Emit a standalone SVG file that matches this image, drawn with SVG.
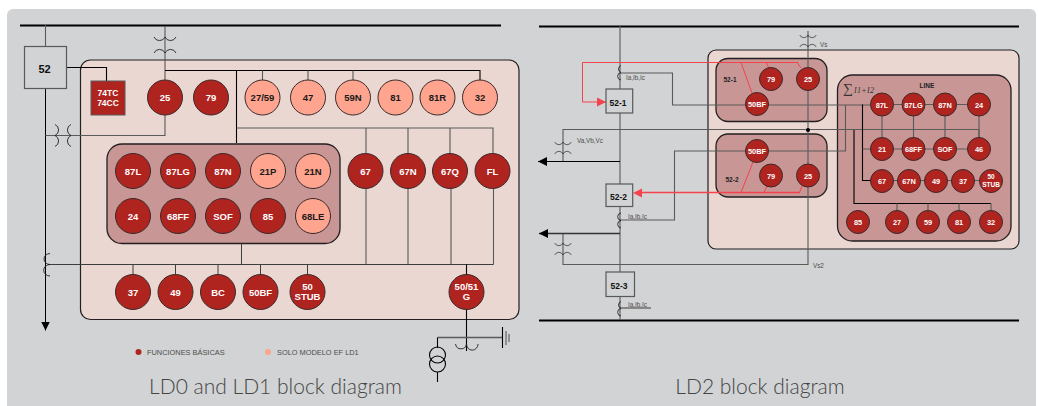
<svg xmlns="http://www.w3.org/2000/svg" width="1038" height="406" viewBox="0 0 1038 406">
<style>
text{font-family:"Liberation Sans",Arial,sans-serif}
.bg{fill:#d1d3d4}
.p1{fill:#ebd7d2;stroke:#231f20;stroke-width:1.2}
.p2{fill:#c89695;stroke:#231f20;stroke-width:1.3}
.n circle{stroke:#3a2a2a;stroke-width:1}
.d circle{fill:#b0241f}
.l circle{fill:#ffa58f}
.n text{font-weight:700;text-anchor:middle}
.d text{fill:#fff}
.l text{fill:#1a1a1a}
.b text{font-size:9.5px}
.s text{font-size:7.4px}
.box{fill:#d1d3d4;stroke:#58595b;stroke-width:1.2}
.bt{font-weight:700;font-size:10.5px;fill:#111;text-anchor:middle}
.w{fill:none;stroke:#3d3d3d;stroke-width:1}
.g{fill:none;stroke:#5a5a5a;stroke-width:1.1}
.k{fill:none;stroke:#000;stroke-width:1.1}
.bus{fill:none;stroke:#000;stroke-width:2}
.r{fill:none;stroke:#f4434c;stroke-width:1}
.c{fill:none;stroke:#222;stroke-width:.9}
.t6{font-size:6.3px;fill:#4d4d4d}
.leg{font-size:7.4px;fill:#4d4d4d}
.cap{font-family:Lato,"Liberation Sans",sans-serif;font-weight:300;font-size:21px;fill:#454545;text-anchor:middle}
</style>
<defs>
<g id="ct"><path class="c" d="M-11-8A6 6 0 0 0 0-8A6 6 0 0 0 11-8M-11 8A6 6 0 0 1 0 8A6 6 0 0 1 11 8"/></g>
<marker id="ah" markerUnits="userSpaceOnUse" markerWidth="10" markerHeight="9" refX="9" refY="4.5" orient="auto"><path d="M0 0L9 4.5L0 9Z" fill="#000"/></marker>
<marker id="ar" markerUnits="userSpaceOnUse" markerWidth="10" markerHeight="9" refX="9" refY="4.5" orient="auto"><path d="M0 0L9 4.5L0 9Z" fill="#f4434c"/></marker>
</defs>
<rect class="bg" x="7" y="9" width="1029" height="410" rx="6"/>

<g id="panels">
<rect id="panel-ld0" class="p1" x="80.5" y="60" width="438.5" height="259.5" rx="10"/>
<rect id="panel-ld0-inner" class="p2" x="107" y="144" width="233" height="99.5" rx="15"/>
<rect id="panel-ld2" class="p1" x="708" y="50" width="311" height="199" rx="8"/>
<rect id="panel-52-1" class="p2" x="716" y="58.5" width="111" height="63" rx="12"/>
<rect id="panel-52-2" class="p2" x="716" y="134" width="111" height="63" rx="12"/>
<rect id="panel-line" class="p2" x="837.5" y="75" width="173.5" height="166" rx="15"/>
</g>

<g id="connectors">
<path class="bus" d="M20 25.5H501M539 26.5H1019M539 320.5H1019"/>
<path class="g" d="M45.5 25V47"/>
<path class="k" d="M45.5 88V330.5" marker-end="url(#ah)" style="stroke-width:1"/>
<path class="k" d="M66 67.5H106.5V81"/>
<path class="g" d="M165 26V81M45.5 135.5H165V115"/>
<path class="k" d="M165 70.5H480V81M236.5 70.5V143"/>
<path class="g" d="M262.5 70.5V81M308 70.5V81M353 70.5V81"/>
<path class="g" d="M236.5 128H493V154M366 128V154M408 128V154M450 128V154"/>
<path class="g" d="M366 188V264M408 188V264M451 188V264M493.5 188V264.5"/>
<path class="w" d="M48 264.5H493.5M241.5 243.5V264.5M133 264.5V275M175.5 264.5V275M218 264.5V275M260.5 264.5V275M307.5 264.5V275"/>
<path class="k" d="M466.5 264.5V275M466.5 309V351"/>
<path class="g" d="M437.5 337.5H503" style="stroke-width:1.4"/>
<path class="k" d="M437.5 337.5V348M437.5 372V382M502.5 327V348"/>
<path class="g" d="M506 331V345M509 334V342"/>
<circle class="k" cx="437.5" cy="355" r="8"/><circle class="k" cx="437.5" cy="364" r="8"/>
<use href="#ct" transform="translate(165 45)"/>
<use href="#ct" transform="translate(63 135.5) rotate(90)"/>
<path class="c" d="M50 253.5A6 5.5 0 0 0 50 264.5A6 5.5 0 0 0 50 276"/>
<path class="c" d="M455.5 344A5.6 6 0 0 0 466.5 344A5.6 6 0 0 0 478 344"/>

<path class="g" d="M620 26V320M620 73H672.5V105H882"/>
<path class="g" d="M563 161V129.5H979V138M808 31V264.5H563V233.5"/>
<path class="g" d="M620 220H674.5V151H845.5V105"/>
<path class="w" d="M620 308H651"/>
<path class="k" d="M620 161.5H538" marker-end="url(#ah)"/>
<path class="k" d="M620 233.5H539" marker-end="url(#ah)" style="stroke:#333;stroke-width:1.4"/>
<circle cx="808" cy="130" r="2" fill="#000"/>
<use href="#ct" transform="translate(563 148) scale(.75)"/>
<use href="#ct" transform="translate(563 249) scale(.75)"/>
<use href="#ct" transform="translate(808 41) scale(.75)"/>
<path class="c" d="M621 65.5A4 3.8 0 0 0 621 72.5A4 3.8 0 0 0 621 80M621 213A4 3.8 0 0 0 621 220.5A4 3.8 0 0 0 621 228M621 301.5A4 3.8 0 0 0 621 308.5A4 3.8 0 0 0 621 316"/>
<path class="r" d="M798 62.5H582.5V102H606" marker-end="url(#ar)"/>
<path class="r" d="M741 62.5L752 93M766 62.5L769 68M797 62.5L801 68"/>
<path class="r" d="M800 192.500H642" style="stroke-width:1.3"/>
<path class="r" d="M741 192.5L753 162M764 192.5L767 186M799.5 192.5L802 186"/>
<path d="M642 188.500V197.500L633 193Z" fill="#f4434c"/>

<path class="g" d="M882 104.5H979M882 105V149M913.5 105V149M945 105V149M979 105V149"/>
<path class="k" d="M862.5 104.5V180.5H882"/>
<path class="g" d="M862.5 149H979M882 180.5H991"/>
<path class="k" d="M854 130V203.5H991"/>
<path class="g" d="M897 203.5V212M928 203.5V212M959 203.5V212M991 203.5V212"/>
</g>

<g id="box-52"><rect class="box" x="24.5" y="46.5" width="42" height="42"/><text class="bt" x="44.5" y="73" style="font-size:11px">52</text></g>
<g id="box-74" class="n d s"><rect x="91" y="81" width="34" height="34" fill="#b0241f" stroke="#58595b"/><text x="108" y="96" style="font-size:8.5px">74TC</text><text x="108" y="106" style="font-size:8.5px">74CC</text></g>
<g id="box-52-1"><rect class="box" x="606" y="89" width="26.7" height="24"/><text class="bt" x="618" y="106" style="font-size:8.500px">52-1</text></g>
<g id="box-52-2"><rect class="box" x="606" y="184" width="26.7" height="22.5"/><text class="bt" x="618.5" y="200" style="font-size:8.500px">52-2</text></g>
<g id="box-52-3"><rect class="box" x="606" y="272" width="28.5" height="24.5"/><text class="bt" x="619" y="289" style="font-size:8.500px">52-3</text></g>

<g id="n-25" class="n d b"><circle cx="165" cy="97.5" r="17.5"/><text x="165" y="101">25</text></g>
<g id="n-79" class="n d b"><circle cx="211" cy="97.5" r="17.5"/><text x="211" y="101">79</text></g>
<g id="n-2759" class="n l b"><circle cx="262.5" cy="97.5" r="17.5"/><text x="262.5" y="101">27/59</text></g>
<g id="n-47" class="n l b"><circle cx="308" cy="97.5" r="17.5"/><text x="308" y="101">47</text></g>
<g id="n-59N" class="n l b"><circle cx="353" cy="97.5" r="17.5"/><text x="353" y="101">59N</text></g>
<g id="n-81" class="n l b"><circle cx="395.5" cy="97.5" r="17.5"/><text x="395.5" y="101">81</text></g>
<g id="n-81R" class="n l b"><circle cx="437.5" cy="97.5" r="17.5"/><text x="437.5" y="101">81R</text></g>
<g id="n-32" class="n l b"><circle cx="480" cy="97.5" r="17.5"/><text x="480" y="101">32</text></g>
<g id="n-87L" class="n d b"><circle cx="133" cy="171" r="17.5"/><text x="133" y="174.5">87L</text></g>
<g id="n-87LG" class="n d b"><circle cx="178" cy="171" r="17.5"/><text x="178" y="174.5">87LG</text></g>
<g id="n-87N" class="n d b"><circle cx="223" cy="171" r="17.5"/><text x="223" y="174.5">87N</text></g>
<g id="n-21P" class="n l b"><circle cx="268" cy="171" r="17.5"/><text x="268" y="174.5">21P</text></g>
<g id="n-21N" class="n l b"><circle cx="313" cy="171" r="17.5"/><text x="313" y="174.5">21N</text></g>
<g id="n-24" class="n d b"><circle cx="133" cy="216" r="17.5"/><text x="133" y="219.5">24</text></g>
<g id="n-68FF" class="n d b"><circle cx="178" cy="216" r="17.5"/><text x="178" y="219.5">68FF</text></g>
<g id="n-SOF" class="n d b"><circle cx="223" cy="216" r="17.5"/><text x="223" y="219.5">SOF</text></g>
<g id="n-85" class="n d b"><circle cx="268" cy="216" r="17.5"/><text x="268" y="219.5">85</text></g>
<g id="n-68LE" class="n l b"><circle cx="313" cy="216" r="17.5"/><text x="313" y="219.5">68LE</text></g>
<g id="n-67" class="n d b"><circle cx="365.5" cy="171" r="17.5"/><text x="365.5" y="174.5">67</text></g>
<g id="n-67N" class="n d b"><circle cx="408" cy="171" r="17.5"/><text x="408" y="174.5">67N</text></g>
<g id="n-67Q" class="n d b"><circle cx="450" cy="171" r="17.5"/><text x="450" y="174.5">67Q</text></g>
<g id="n-FL" class="n d b"><circle cx="492.5" cy="171" r="17.5"/><text x="492.5" y="174.5">FL</text></g>
<g id="n-37" class="n d b"><circle cx="133" cy="292" r="17.5"/><text x="133" y="295.5">37</text></g>
<g id="n-49" class="n d b"><circle cx="175.5" cy="292" r="17.5"/><text x="175.5" y="295.5">49</text></g>
<g id="n-BC" class="n d b"><circle cx="218" cy="292" r="17.5"/><text x="218" y="295.5">BC</text></g>
<g id="n-50BF" class="n d b"><circle cx="260.5" cy="292" r="17.5"/><text x="260.5" y="295.5">50BF</text></g>
<g id="n-50STUB" class="n d b"><circle cx="307.5" cy="292" r="17.5"/><text x="307.5" y="290">50</text><text x="307.5" y="300">STUB</text></g>
<g id="n-5051G" class="n d b"><circle cx="466.5" cy="292" r="17.5"/><text x="466.5" y="290">50/51</text><text x="466.5" y="300">G</text></g>

<g id="r1-79" class="n d s"><circle cx="771" cy="79" r="11.5"/><text x="771" y="82">79</text></g>
<g id="r1-25" class="n d s"><circle cx="808" cy="79" r="11.5"/><text x="808" y="82">25</text></g>
<g id="r1-50BF" class="n d s"><circle cx="757" cy="104" r="11.5"/><text x="757" y="107">50BF</text></g>
<g id="r2-50BF" class="n d s"><circle cx="757" cy="151" r="11.5"/><text x="757" y="154">50BF</text></g>
<g id="r2-79" class="n d s"><circle cx="771" cy="175.5" r="11.5"/><text x="771" y="178.5">79</text></g>
<g id="r2-25" class="n d s"><circle cx="808" cy="175.5" r="11.5"/><text x="808" y="178.5">25</text></g>
<g id="l-87L" class="n d s"><circle cx="882" cy="104.5" r="11.5"/><text x="882" y="107.5">87L</text></g>
<g id="l-87LG" class="n d s"><circle cx="913.5" cy="104.5" r="11.5"/><text x="913.5" y="107.5">87LG</text></g>
<g id="l-87N" class="n d s"><circle cx="945" cy="104.5" r="11.5"/><text x="945" y="107.5">87N</text></g>
<g id="l-24" class="n d s"><circle cx="979" cy="104.5" r="11.5"/><text x="979" y="107.5">24</text></g>
<g id="l-21" class="n d s"><circle cx="882" cy="149" r="11.5"/><text x="882" y="152">21</text></g>
<g id="l-68FF" class="n d s"><circle cx="913.5" cy="149" r="11.5"/><text x="913.5" y="152">68FF</text></g>
<g id="l-SOF" class="n d s"><circle cx="945" cy="149" r="11.5"/><text x="945" y="152">SOF</text></g>
<g id="l-46" class="n d s"><circle cx="979" cy="149" r="11.5"/><text x="979" y="152">46</text></g>
<g id="l-67" class="n d s"><circle cx="882" cy="181" r="11.5"/><text x="882" y="184">67</text></g>
<g id="l-67N" class="n d s"><circle cx="909" cy="181" r="11.5"/><text x="909" y="184">67N</text></g>
<g id="l-49" class="n d s"><circle cx="936" cy="181" r="11.5"/><text x="936" y="184">49</text></g>
<g id="l-37" class="n d s"><circle cx="963" cy="181" r="11.5"/><text x="963" y="184">37</text></g>
<g id="l-50STUB" class="n d s"><circle cx="991" cy="181" r="11.5"/><text x="991" y="179" style="font-size:6.5px">50</text><text x="991" y="187" style="font-size:6.5px">STUB</text></g>
<g id="l-85" class="n d s"><circle cx="858" cy="222" r="11.5"/><text x="858" y="225">85</text></g>
<g id="l-27" class="n d s"><circle cx="897" cy="222" r="11.5"/><text x="897" y="225">27</text></g>
<g id="l-59" class="n d s"><circle cx="928" cy="222" r="11.5"/><text x="928" y="225">59</text></g>
<g id="l-81" class="n d s"><circle cx="959" cy="222" r="11.5"/><text x="959" y="225">81</text></g>
<g id="l-32" class="n d s"><circle cx="991" cy="222" r="11.5"/><text x="991" y="225">32</text></g>

<g id="labels">
<text x="730" y="81.5" style="font-size:6.5px;font-weight:700;fill:#222;text-anchor:middle">52-1</text>
<text x="732" y="182" style="font-size:6.5px;font-weight:700;fill:#222;text-anchor:middle">52-2</text>
<text x="927" y="88" style="font-size:6.5px;font-weight:700;fill:#222;text-anchor:middle">LINE</text>
<text x="843" y="93" style="font-size:14px;font-family:'Liberation Serif',serif;fill:#333">∑</text>
<text x="854" y="92.5" style="font-size:8px;font-family:'Liberation Serif',serif;font-style:italic;letter-spacing:.3px;fill:#333">I1+I2</text>
<text class="t6" x="626" y="80">Ia,Ib,Ic</text>
<text class="t6" x="628" y="219">Ia,Ib,Ic</text>
<text class="t6" x="628" y="306.5">Ia,Ib,Ic</text>
<text class="t6" x="577" y="142.5">Va,Vb,Vc</text>
<text class="t6" x="820" y="46.5">Vs</text>
<text class="t6" x="813" y="268">Vs2</text>
</g>

<g id="legend">
<circle cx="138.5" cy="352" r="3" fill="#b0241f"/>
<text class="leg" x="147" y="354.5">FUNCIONES BÁSICAS</text>
<circle cx="268" cy="352" r="3" fill="#ffa58f"/>
<text class="leg" x="277" y="354.5">SOLO MODELO EF LD1</text>
</g>
<text class="cap" x="275.5" y="394">LD0 and LD1 block diagram</text>
<text class="cap" x="760" y="394">LD2 block diagram</text>
</svg>
